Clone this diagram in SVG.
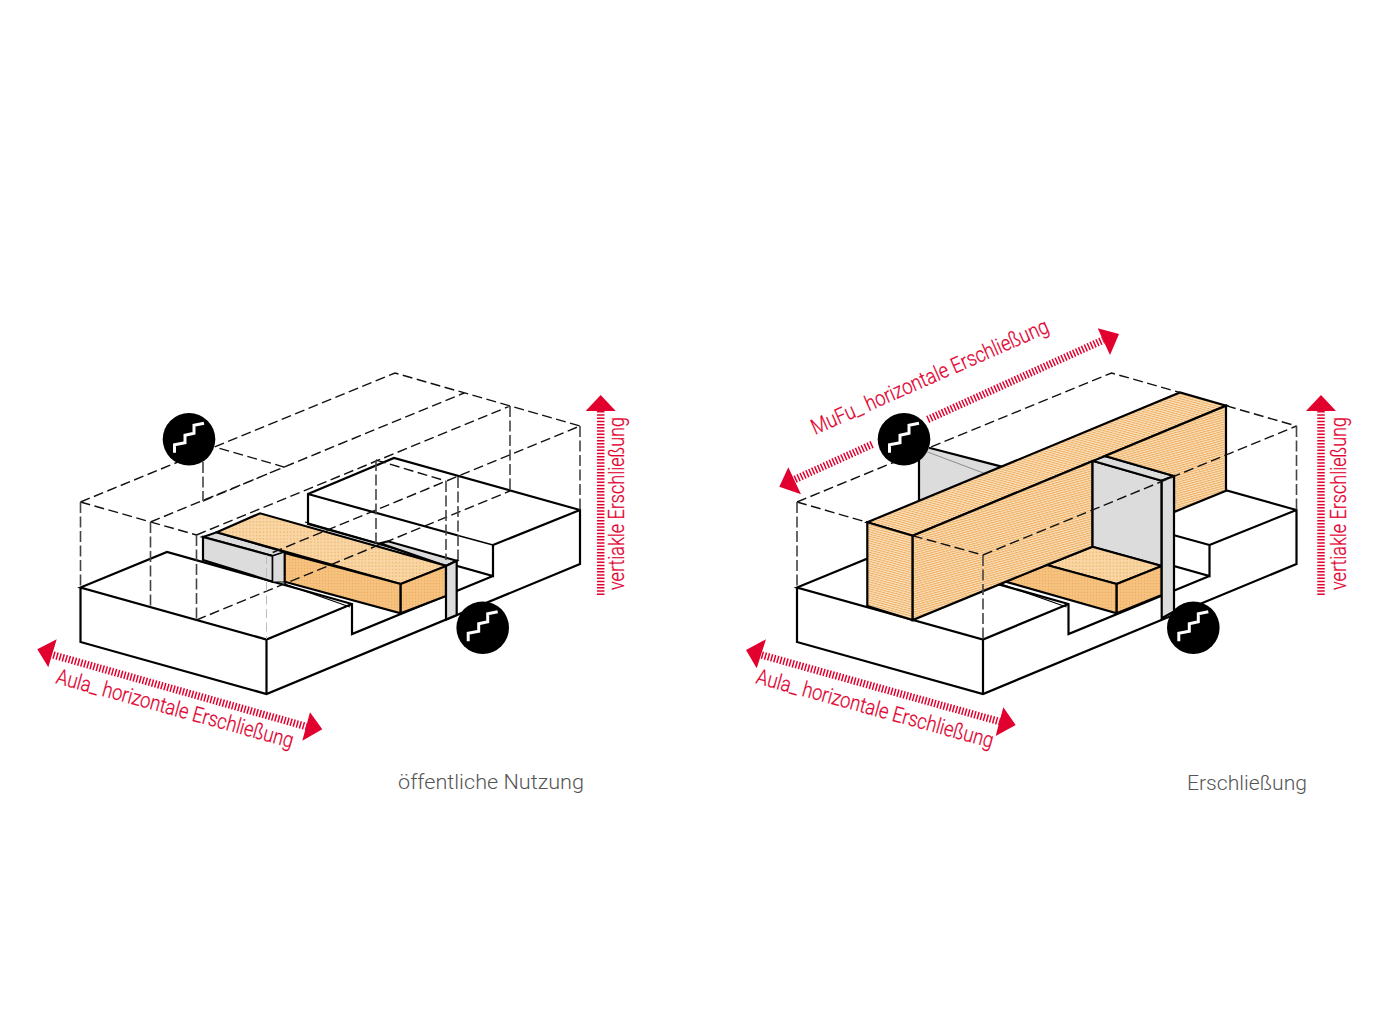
<svg xmlns="http://www.w3.org/2000/svg" width="1388" height="1036" viewBox="0 0 1388 1036">
<style>
.s{fill:none;stroke:#000;stroke-width:2.2;stroke-linejoin:miter}
.f{stroke:#000;stroke-width:2.2;stroke-linejoin:miter}
.t{stroke:#000;stroke-width:1.2}
.d{fill:none;stroke:#111;stroke-width:1.4;stroke-dasharray:10 4.5}
.dv{fill:none;stroke:#444;stroke-width:1.6;stroke-dasharray:11 3.5}
.dl{fill:none;stroke:#bbb;stroke-width:1;stroke-dasharray:9 4.5}
.g{fill:#dcdcdc}
.r{fill:#e2002f}
.h{fill:none;stroke:#e2002f;stroke-width:7.5;stroke-dasharray:1.5 1.7}
.lb{font-family:"Roboto","Liberation Sans",sans-serif;font-weight:300;font-size:21.5px;fill:#e2002f;stroke:#e2002f;stroke-width:.25}
.cap{font-family:"Roboto","Liberation Sans",sans-serif;font-weight:300;font-size:21px;fill:#555}
.st{fill:none;stroke:#fff;stroke-width:3}
</style>
<defs>
<pattern id="dots" width="3.4" height="3.4" patternUnits="userSpaceOnUse"><rect width="3.4" height="3.4" fill="#f9d6a6"/><circle cx="1.7" cy="1.7" r=".75" fill="#f0b468"/></pattern>
<pattern id="dots2" width="3" height="3" patternUnits="userSpaceOnUse"><rect width="3" height="3" fill="#f6c27f"/><circle cx="1.5" cy="1.5" r=".7" fill="#efae62"/></pattern>
<pattern id="hatch" width="2.2" height="2.2" patternUnits="userSpaceOnUse" patternTransform="rotate(15)"><rect width="2.2" height="2.2" fill="#fbe3c0"/><rect width="2.2" height="1" fill="#eeae62"/></pattern>
<pattern id="hatch2" width="2.2" height="2.2" patternUnits="userSpaceOnUse" patternTransform="rotate(-15)"><rect width="2.2" height="2.2" fill="#fbe3c0"/><rect width="2.2" height="1.1" fill="#eeae62"/></pattern>
<g id="stair"><circle r="26.3" fill="#000"/><path class="st" d="M-14.500 13.500V5.500L-4 3.500V-4L5 -6V-14L15 -16"/></g>
</defs>

<g id="left">
<g id="left-base">
<path class="s" d="M80.500 587.500V642L266.500 694L580 564V510L394 458L308 494V524L493 576V545M493 545L580 510M493 576L352 634V604L167 552L80.500 587.500L266.500 639.500L352 604M266.500 639.500V694M308 494L458 535.500"/>
<path class="s" style="stroke-width:1.3" d="M458 535.500L493 545"/>
<path class="s" style="stroke-width:1.2" d="M305 522L378 543M284.700 584L350 607"/>
</g>
<g id="left-block">
<path class="g f" d="M203 537L216.700 532.300L285 552L272.700 556Z"/>
<path class="g f" d="M203 537V560L272.700 581.700V556Z"/>
<path class="g t" d="M272.700 556L284.700 552V582L272.700 582Z"/>
<path class="g f" d="M380 543.300L388 541.300L456.700 560.700L446 566Z"/>
<path fill="url(#dots)" class="f" d="M216.700 532.300L260 513.300L446.700 566L400.700 584Z"/>
<path fill="url(#dots2)" class="f" d="M284.700 553L400.700 584V613.300L284.700 581.700Z"/>
<path fill="url(#dots2)" class="f" d="M400.700 584L446 566V596L400.700 613.300Z"/>
<path class="g f" d="M446 566L456.700 560.700V615L446 619.500Z"/>
</g>
<g id="left-dashed">
<path class="d" d="M80.500 502L395 373L580 426M80.500 502L196.500 535M150.500 522L464 393M196.500 535L510 406M196.500 620L510 491M203 501L284 467L215 447M272.700 552.500L580 426M376 460L446 481"/>
<path class="dv" d="M80.500 502V587M150.500 522V607M196.500 535V620M510 406V491M203 462V501M376 460V545M446 481V560M458 477V560M580 426V510"/>
<path class="dl" d="M266.500 555V639"/>
</g>
<g id="left-arrows">
<path class="h" d="M53.300 655L306.700 726.700"/>
<path class="r" d="M37.300 649.300L56.700 639.300L48.300 667.300ZM322.300 729.300L310 712.300L302.300 740.700Z"/>
<path class="h" d="M600.700 595V411"/>
<path class="r" d="M600.700 395L585.700 411H615.700Z"/>
<text class="lb" transform="translate(55 683) rotate(15.4)" textLength="245" lengthAdjust="spacingAndGlyphs">Aula_ horizontale Erschließung</text>
<text class="lb" transform="translate(624 590) rotate(-90)" textLength="173" lengthAdjust="spacingAndGlyphs">vertiakle Erschließung</text>
</g>
<use id="stair-1" href="#stair" x="189" y="439.300"/>
<use id="stair-2" href="#stair" x="482.700" y="627.700"/>
<text class="cap" x="398" y="789" textLength="186" lengthAdjust="spacingAndGlyphs">öffentliche Nutzung</text>
</g>

<g id="right">
<g id="right-base">
<path class="s" d="M797 587.500V642L983 694L1296.500 564V510L1110.500 458L1024.500 494V524L1209.500 576V545L1024.500 494M1209.500 545L1296.500 510M1209.500 576L1068.500 634V604L883.500 552L797 587.500L983 639.500L1068.500 604M983 639.500V694"/>
<path class="s" style="stroke-width:1.2" d="M1001.200 584L1066.500 607"/>
</g>
<g id="right-block">
<path class="g" d="M919 457L929 447.700L1001.700 466.600L986 474L919 501Z"/>
<path class="s" d="M919 501V457M929 447.700L1001.700 466.600"/>
<path class="s" style="stroke-width:.8;stroke:#777" d="M925 451L986 474"/>
<path class="g f" d="M1092.300 460.700L1161.700 480.700V566L1092.300 546.700Z"/>
<path class="g f" d="M1092.300 460.700L1105 456L1174 476L1161.700 480.700Z"/>
<path fill="url(#dots)" class="f" d="M1092.300 546.700L1161.700 566L1116.700 584L1046.700 565Z"/>
<path fill="url(#dots2)" class="f" d="M1046.700 565L1116.700 584V613.300L1005 581.500Z"/>
<path fill="url(#dots2)" class="f" d="M1116.700 584L1161.700 566V595L1116.700 613.300Z"/>
<path fill="url(#hatch)" class="f" d="M867.300 522.300L1180 392.500L1226 405.700L912.700 535.700Z"/>
<path fill="url(#hatch)" class="f" d="M867.300 522.300L912.700 535.700V620L867.300 606Z"/>
<path fill="url(#hatch2)" class="f" d="M912.700 535.700L1092.300 461.200V546.700L1046.700 565L912.700 620Z"/>
<path fill="url(#hatch2)" class="f" d="M1105 456L1226 405.700V490.700L1174 512V476Z"/>
<path class="g f" d="M1161.700 480.700L1174 476V611.500L1161.700 618.300Z"/>
</g>
<g id="right-dashed">
<path class="d" d="M797 502L1111.500 373L1180 392.500M1226 405.700L1296.500 426M797 502L867.300 522.300M912.700 535.700L983 555M983 555L1296.500 426"/>
<path class="dv" d="M797 502V587M983 555V639M1296.500 426V510"/>
</g>
<g id="right-arrows">
<path class="h" d="M761.700 655L1000 721.700"/>
<path class="r" d="M746 650L766 639.300L756.700 668.300ZM1015.700 725L1003.300 707.300L995.700 736Z"/>
<path class="h" d="M795 479.300L873 444M927.700 419.500L1103.300 340"/>
<path class="r" d="M779.300 486.700L788.300 467.300L801 494.300ZM1119 334L1097.700 328.300L1110 355Z"/>
<path class="h" d="M1321 595V411"/>
<path class="r" d="M1321 395L1306 411H1336Z"/>
<text class="lb" transform="translate(755 683) rotate(15.4)" textLength="245" lengthAdjust="spacingAndGlyphs">Aula_ horizontale Erschließung</text>
<text class="lb" transform="translate(815 435) rotate(-23.700)" textLength="257" lengthAdjust="spacingAndGlyphs">MuFu_ horizontale Erschließung</text>
<text class="lb" transform="translate(1346 590) rotate(-90)" textLength="173" lengthAdjust="spacingAndGlyphs">vertiakle Erschließung</text>
</g>
<use id="stair-3" href="#stair" x="904" y="439.300"/>
<use id="stair-4" href="#stair" x="1193.300" y="627.700"/>
<text class="cap" x="1187" y="790" textLength="120" lengthAdjust="spacingAndGlyphs">Erschließung</text>
</g>
</svg>
